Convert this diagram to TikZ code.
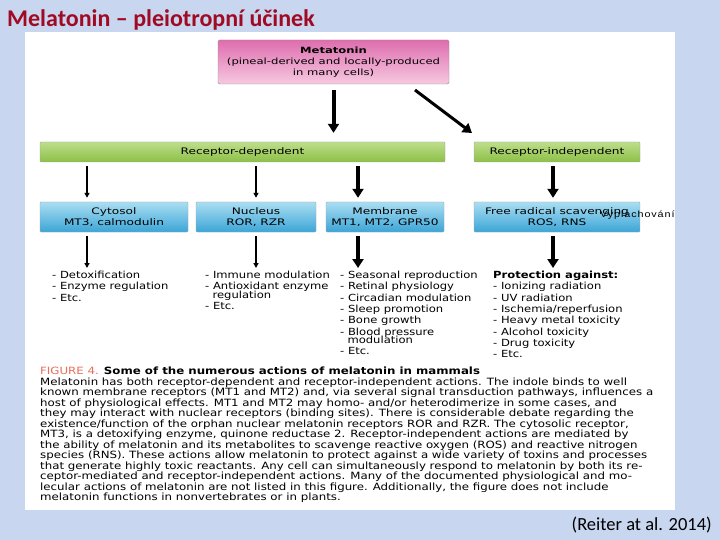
\documentclass[tikz,border=0pt]{standalone}
\usepackage{fontspec}
\setmainfont{Carlito}
\newfontfamily\figfont[FakeStretch=1.18]{DejaVu Sans}
\newfontfamily\boxfont[FakeStretch=1.35]{DejaVu Sans}
\newfontfamily\notefont[FakeStretch=1.2, LetterSpace=10]{Liberation Sans}
\usetikzlibrary{arrows.meta}
\definecolor{slidebg}{RGB}{200,214,240}
\definecolor{titlered}{RGB}{160,10,35}
\definecolor{pinktop}{RGB}{222,110,175}
\definecolor{pinkbot}{RGB}{246,200,224}
\definecolor{greentop}{RGB}{190,222,140}
\definecolor{greenbot}{RGB}{140,192,70}
\definecolor{bluetop}{RGB}{170,222,242}
\definecolor{bluebot}{RGB}{60,165,215}
\definecolor{figred}{RGB}{232,110,90}
\tikzstyle{boxpink}=[draw=black!45, rounded corners=1.5pt, top color=pinktop, bottom color=pinkbot, align=center, inner sep=0pt, font=\boxfont\fontsize{8.6}{10.8}\selectfont]
\tikzstyle{boxgreen}=[draw=black!35, rounded corners=1pt, top color=greentop, bottom color=greenbot, minimum height=20pt, inner sep=0pt, font=\boxfont\fontsize{9}{10}\selectfont]
\tikzstyle{boxblue}=[draw=black!35, rounded corners=1pt, top color=bluetop, bottom color=bluebot, minimum height=30pt, align=center, inner sep=0pt, font=\boxfont\fontsize{9}{11}\selectfont]
\tikzstyle{arrowthick}=[draw=black, line width=4pt, -{Triangle[length=9pt,width=11pt]}]
\tikzstyle{arrowthin}=[draw=black, line width=1.3pt, -{Triangle[length=5pt,width=5pt]}]
\tikzstyle{list}=[anchor=north west, align=left, inner sep=0pt, font=\figfont\fontsize{9.8}{11.3}\selectfont]

\begin{document}
\begin{tikzpicture}[x=1pt, y=-1pt]
  \useasboundingbox (0,0) rectangle (720,540);
  \fill[slidebg] (0,0) rectangle (720,540);
  \fill[white] (25,32) rectangle (675,510);

  \node (title) at (7,20)[anchor=west, inner sep=0pt, text=titlered, font=\fontsize{24}{28}\selectfont\bfseries] {Melatonin -- pleiotropní účinek};

  % boxes
  \begin{scope}
    \node (meta) at (333.5,62)[boxpink, minimum width=231pt, minimum height=44pt] {{\bfseries Metatonin}\\(pineal-derived and locally-produced\\in many cells)};
    \node (dep) at (242.5,152)[boxgreen, minimum width=405pt] {Receptor-dependent};
    \node (indep) at (557,152)[boxgreen, minimum width=166pt] {Receptor-independent};
    \node (cyto) at (114,217)[boxblue, minimum width=148pt] {Cytosol\\MT3, calmodulin};
    \node (nucl) at (256,217)[boxblue, minimum width=120pt] {Nucleus\\ROR, RZR};
    \node (memb) at (385,217)[boxblue, minimum width=118pt] {Membrane\\MT1, MT2, GPR50};
    \node (free) at (557,217)[boxblue, minimum width=166pt] {Free radical scavenging\\ROS, RNS};
    \node (note) at (600,215)[anchor=west, inner sep=0pt, font=\notefont\fontsize{9}{10}\selectfont] {Vyplachování};
  \end{scope}

  % lists
  \begin{scope}
    \node (list1) at (52,271)[list] {- Detoxification\\- Enzyme regulation\\- Etc.};
    \node (list2) at (205,271)[list] {- Immune modulation\\- Antioxidant enzyme\\[-3pt]\ \ regulation\\- Etc.};
    \node (list3) at (340,271)[list] {- Seasonal reproduction\\- Retinal physiology\\- Circadian modulation\\- Sleep promotion\\- Bone growth\\- Blood pressure\\[-3pt]\ \ modulation\\- Etc.};
    \node (list4) at (493,271)[list] {{\bfseries Protection against:}\\- Ionizing radiation\\- UV radiation\\- Ischemia/reperfusion\\- Heavy metal toxicity\\- Alcohol toxicity\\- Drug toxicity\\- Etc.};
  \end{scope}

  % arrows
  \begin{scope}
    \coordinate (diagstart) at (415,90);
    \coordinate (diagend) at (472,133);
    \path [arrowthick] (meta.south) ++(0,6) -- (meta.south |- dep.north) [shorten >=9pt];
    \path [arrowthick, line width=3pt] (diagstart) -- (diagend);
    \path [arrowthin, shorten <=4pt, shorten >=4pt] ([xshift=-27pt]cyto.north |- dep.south) -- ([xshift=-27pt]cyto.north);
    \path [arrowthin, shorten <=4pt, shorten >=4pt] (nucl.north |- dep.south) -- (nucl.north);
    \path [arrowthick, shorten <=4pt, shorten >=4pt] ([xshift=-27pt]memb.north |- dep.south) -- ([xshift=-27pt]memb.north);
    \path [arrowthick, shorten <=4pt, shorten >=4pt] ([xshift=-4pt]free.north |- indep.south) -- ([xshift=-4pt]free.north);
    \path [arrowthin, shorten <=4pt, shorten >=3pt] ([xshift=-27pt]cyto.south) -- ([xshift=-27pt]cyto.south |- list1.north);
    \path [arrowthin, shorten <=4pt, shorten >=3pt] (nucl.south) -- (nucl.south |- list2.north);
    \path [arrowthick, shorten <=4pt, shorten >=3pt] ([xshift=-27pt]memb.south) -- ([xshift=-27pt]memb.south |- list3.north);
    \path [arrowthick, shorten <=4pt, shorten >=3pt] ([xshift=-4pt]free.south) -- ([xshift=-4pt]free.south |- list4.north);
  \end{scope}

  % caption
  \node (caption) at (40,367)[anchor=north west, align=left, inner sep=0pt, font=\figfont\fontsize{10}{10.5}\selectfont] {{\color{figred}FIGURE 4.} {\bfseries Some of the numerous actions of melatonin in mammals}\\
Melatonin has both receptor-dependent and receptor-independent actions. The indole binds to well\\
known membrane receptors (MT1 and MT2) and, via several signal transduction pathways, influences a\\
host of physiological effects. MT1 and MT2 may homo- and/or heterodimerize in some cases, and\\
they may interact with nuclear receptors (binding sites). There is considerable debate regarding the\\
existence/function of the orphan nuclear melatonin receptors ROR and RZR. The cytosolic receptor,\\
MT3, is a detoxifying enzyme, quinone reductase 2. Receptor-independent actions are mediated by\\
the ability of melatonin and its metabolites to scavenge reactive oxygen (ROS) and reactive nitrogen\\
species (RNS). These actions allow melatonin to protect against a wide variety of toxins and processes\\
that generate highly toxic reactants. Any cell can simultaneously respond to melatonin by both its re-\\
ceptor-mediated and receptor-independent actions. Many of the documented physiological and mo-\\
lecular actions of melatonin are not listed in this figure. Additionally, the figure does not include\\
melatonin functions in nonvertebrates or in plants.};

  \node (cite) at (712,525)[anchor=east, inner sep=0pt, font=\fontsize{18.5}{22}\selectfont] {(Reiter at al. 2014)};
\end{tikzpicture}
\end{document}
